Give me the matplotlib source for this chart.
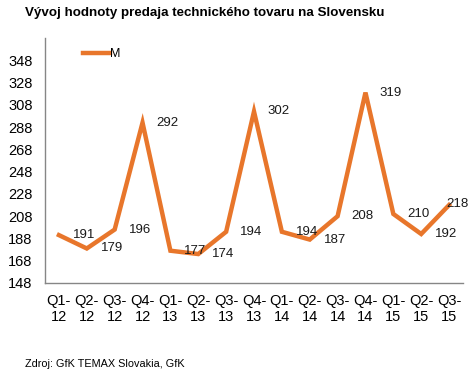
import matplotlib
matplotlib.use("Agg")
import matplotlib.pyplot as plt

plt.rcParams['font.family'] = ['Liberation Sans', 'DejaVu Sans']

categories = ["Q1-\n12", "Q2-\n12", "Q3-\n12", "Q4-\n12",
              "Q1-\n13", "Q2-\n13", "Q3-\n13", "Q4-\n13",
              "Q1-\n14", "Q2-\n14", "Q3-\n14", "Q4-\n14",
              "Q1-\n15", "Q2-\n15", "Q3-\n15"]
values = [191, 179, 196, 292, 177, 174, 194, 302, 194, 187, 208, 319, 210, 192, 218]
yticks = [148, 168, 188, 208, 228, 248, 268, 288, 308, 328, 348]
series_name = "M"
title = "Vývoj hodnoty predaja technického tovaru na Slovensku"
source = "Zdroj: GfK TEMAX Slovakia, GfK"

W, H = 470, 377
fig = plt.figure(figsize=(W/100, H/100), dpi=100)
ax = fig.add_axes([45/W, 1-283/H, (463-45)/W, (283-38)/H])

color = "#E8762B"
x = list(range(len(values)))
ax.plot(x, values, color=color, lw=3.2, solid_joinstyle='miter', label=series_name)
n = len(values)
for xi, v in zip(x, values):
    if xi == n - 1:
        off = (-2, 1)
    else:
        off = (10, 0)
    ax.annotate(str(v), (xi, v), xytext=off, textcoords='offset points',
                ha='left', va='center', fontsize=9.5, color='#1a1a1a')

ax.set_xlim(-0.5, n - 0.5)
ax.set_ylim(148, 368)
ax.set_yticks(yticks)
ax.set_xticks(x)
ax.set_xticklabels(categories, fontsize=10.5, linespacing=1.2)
ax.tick_params(axis='y', labelsize=10.5, length=0, pad=9)
ax.tick_params(axis='x', length=0, pad=8)
for s in ['top', 'right']:
    ax.spines[s].set_visible(False)
for s in ['left', 'bottom']:
    ax.spines[s].set_color('#868686')
    ax.spines[s].set_linewidth(1)

leg = ax.legend(loc='upper left', bbox_to_anchor=(0.065, 1.005), frameon=False,
                fontsize=9, handlelength=2.1, handletextpad=0.05)

fig.text(25/W, 1-13/H, title, fontsize=9.6, fontweight='bold', va='center', ha='left')
fig.text(25/W, 1-364/H, source, fontsize=7.8, va='center', ha='left')

fig.savefig("out.png", dpi=100)
